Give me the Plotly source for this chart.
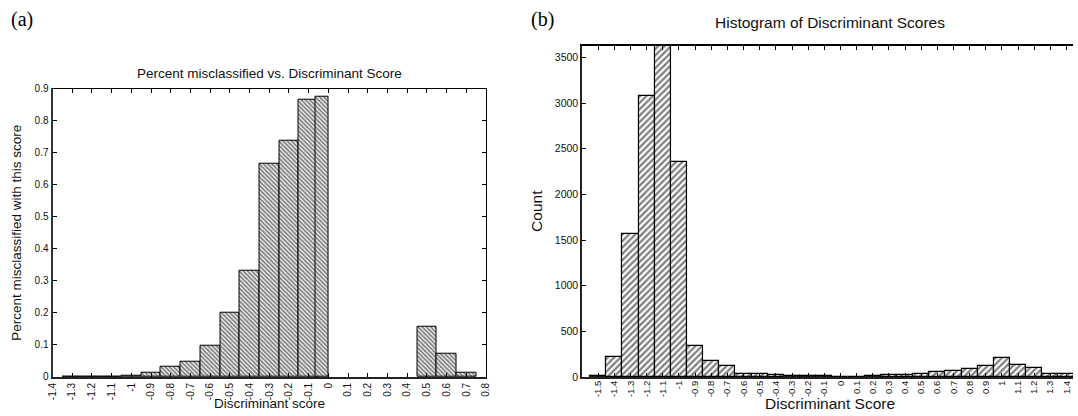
import plotly.graph_objects as go

# ---------------- data ----------------
# (a) percent misclassified per discriminant-score bin
a_score = [-1.3, -1.2, -1.1, -1.0, -0.9, -0.8, -0.7, -0.6, -0.5, -0.4, -0.3, -0.2, -0.1, -0.0315, 0.5, 0.6, 0.7]
a_width = [0.1, 0.1, 0.1, 0.1, 0.1, 0.1, 0.1, 0.1, 0.1, 0.1, 0.1, 0.1, 0.1, 0.063, 0.1, 0.1, 0.1]
a_pct = [0.002, 0.002, 0.002, 0.003, 0.013, 0.032, 0.048, 0.098, 0.200, 0.333,
         0.667, 0.737, 0.867, 0.875, 0.158, 0.073, 0.014]
a_xtick_vals = [-1.4, -1.3, -1.2, -1.1, -1.0, -0.9, -0.8, -0.7, -0.6, -0.5, -0.4, -0.3,
                -0.2, -0.1, 0.0, 0.1, 0.2, 0.3, 0.4, 0.5, 0.6, 0.7, 0.8]
a_xtick_text = ["-1.4", "-1.3", "-1.2", "-1.1", "-1", "-0.9", "-0.8", "-0.7", "-0.6", "-0.5", "-0.4", "-0.3",
                "-0.2", "-0.1", "0", "0.1", "0.2", "0.3", "0.4", "0.5", "0.6", "0.7", "0.8"]
a_ytick_vals = [0, 0.1, 0.2, 0.3, 0.4, 0.5, 0.6, 0.7, 0.8, 0.9]
a_ytick_text = ["0", "0.1", "0.2", "0.3", "0.4", "0.5", "0.6", "0.7", "0.8", "0.9"]

# (b) histogram of discriminant scores
b_score = [-1.5, -1.4, -1.3, -1.2, -1.1, -1.0, -0.9, -0.8, -0.7, -0.6, -0.5, -0.4, -0.3, -0.2, -0.1,
           0.0, 0.1, 0.2, 0.3, 0.4, 0.5, 0.6, 0.7, 0.8, 0.9, 1.0, 1.1, 1.2, 1.3, 1.4]
b_count = [15, 220, 1570, 3075, 3627, 2355, 340, 180, 122, 38, 33, 20, 12, 15, 11,
           4, 5, 8, 18, 20, 36, 50, 62, 88, 116, 212, 132, 94, 36, 36]
b_xtick_vals = b_score
b_xtick_text = ["-1.5", "-1.4", "-1.3", "-1.2", "-1.1", "-1", "-0.9", "-0.8", "-0.7", "-0.6", "-0.5",
                "-0.4", "-0.3", "-0.2", "-0.1", "0", "0.1", "0.2", "0.3", "0.4", "0.5", "0.6", "0.7",
                "0.8", "0.9", "1", "1.1", "1.2", "1.3", "1.4"]
b_ytick_vals = [0, 500, 1000, 1500, 2000, 2500, 3000, 3500]

# ---------------- geometry (pixels) ----------------
W, H = 1078, 416
def px(x):
    return x / W
def py(y):
    return 1 - y / H

FONT = "Liberation Sans, Arial, sans-serif"
SERIF = "Liberation Serif, Times New Roman, serif"
INK = "#111111"

fig = go.Figure()

fig.add_trace(go.Bar(
    x=a_score, y=a_pct, width=a_width, xaxis="x", yaxis="y",
    marker=dict(color="white", line=dict(color="black", width=1),
                pattern=dict(shape="\\", fgcolor="black", bgcolor="white", size=3, solidity=0.6)),
    showlegend=False, hoverinfo="skip",
))
fig.add_trace(go.Bar(
    x=b_score, y=b_count, width=0.1, xaxis="x2", yaxis="y2",
    marker=dict(color="white", line=dict(color="black", width=1.2),
                pattern=dict(shape="/", fgcolor="black", bgcolor="white", size=4.5, solidity=0.5)),
    showlegend=False, hoverinfo="skip",
))
# empty traces so that the overlay (top / right border) axes are drawn
fig.add_trace(go.Scatter(x=[None], y=[None], xaxis="x3", yaxis="y3", showlegend=False))
fig.add_trace(go.Scatter(x=[None], y=[None], xaxis="x4", yaxis="y4", showlegend=False))

a_xdom = [px(47), px(485)]
a_ydom = [py(382), py(86)]
a_xr = [-1.4, 0.8]
a_yr = [0, 0.9]

b_xdom = [px(582), 1.0]
b_ydom = [py(382), py(42)]
b_xr = [-1.6, 1.44]
b_yr = [0, 3627]

tickfont = dict(family=FONT, size=10, color=INK)
common = dict(showgrid=False, zeroline=False, ticks="inside", ticklen=4, tickwidth=1.3,
              tickcolor="black", showline=True, fixedrange=True)

fig.update_layout(
    width=W, height=H, margin=dict(l=0, r=0, t=0, b=0),
    paper_bgcolor="white", plot_bgcolor="white", bargap=0, barmode="overlay",
    xaxis=dict(domain=a_xdom, range=a_xr, anchor="y", tickmode="array",
               tickvals=a_xtick_vals, ticktext=a_xtick_text, tickangle=-90, tickfont=tickfont,
               linewidth=2, linecolor="#222", **common),
    yaxis=dict(domain=a_ydom, range=a_yr, anchor="x", tickmode="array",
               tickvals=a_ytick_vals, ticktext=a_ytick_text, tickfont=tickfont,
               linewidth=2, linecolor="#333", **common),
    xaxis3=dict(overlaying="x", side="top", anchor="y", range=a_xr, tickmode="array",
                tickvals=a_xtick_vals, showticklabels=False, linewidth=1.2, linecolor="black", **common),
    yaxis3=dict(overlaying="y", side="right", anchor="x", range=a_yr, tickmode="array",
                tickvals=a_ytick_vals, showticklabels=False, linewidth=1.2, linecolor="black", **common),
    xaxis2=dict(domain=b_xdom, range=b_xr, anchor="y2", tickmode="array",
                tickvals=b_xtick_vals, ticktext=b_xtick_text, tickangle=-90,
                tickfont=dict(family=FONT, size=9.5, color=INK), ticklabelstandoff=-2,
                linewidth=2, linecolor="#222", **common),
    yaxis2=dict(domain=b_ydom, range=b_yr, anchor="x2", tickmode="array",
                tickvals=b_ytick_vals, tickfont=dict(family=FONT, size=10.5, color=INK),
                linewidth=1.5, linecolor="#222", **common),
    xaxis4=dict(overlaying="x2", side="top", anchor="y2", range=b_xr, tickmode="array",
                tickvals=b_xtick_vals, showticklabels=False, linewidth=1.5, linecolor="black", **common),
    yaxis4=dict(overlaying="y2", side="right", anchor="x2", range=b_yr, visible=False),
)

ann = [
    dict(text="(a)", x=px(3), y=py(15), xanchor="left", yanchor="middle",
         font=dict(family=SERIF, size=20, color="black")),
    dict(text="(b)", x=px(528), y=py(15), xanchor="left", yanchor="middle",
         font=dict(family=SERIF, size=20, color="black")),
    dict(text="Percent misclassified vs. Discriminant Score", x=px(266), y=py(70),
         xanchor="center", yanchor="middle", font=dict(family=FONT, size=13.5, color=INK)),
    dict(text="Histogram of Discriminant Scores", x=px(832), y=py(18),
         xanchor="center", yanchor="middle", font=dict(family=FONT, size=15.5, color=INK)),
    dict(text="Percent misclassified with this score", x=px(11), y=py(234), textangle=-90,
         xanchor="center", yanchor="middle", font=dict(family=FONT, size=13.5, color=INK)),
    dict(text="Discriminant score", x=px(266), y=py(409),
         xanchor="center", yanchor="middle", font=dict(family=FONT, size=13.5, color=INK)),
    dict(text="Count", x=px(536), y=py(212), textangle=-90,
         xanchor="center", yanchor="middle", font=dict(family=FONT, size=15.5, color=INK)),
    dict(text="Discriminant Score", x=px(832), y=py(409),
         xanchor="center", yanchor="middle", font=dict(family=FONT, size=15.5, color=INK)),
]
for a in ann:
    a.update(xref="paper", yref="paper", showarrow=False)
fig.update_layout(annotations=ann)

fig.write_html("out.html", config={"displayModeBar": False},
               post_script="document.body.style.margin='0';document.body.style.overflow='hidden';")
